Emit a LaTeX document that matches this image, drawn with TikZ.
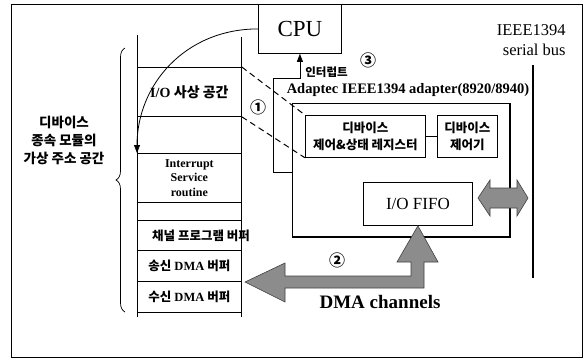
\documentclass[tikz,border=0pt]{standalone}
\usepackage{fontspec}
\setmainfont{Liberation Serif}
\newfontfamily\kr{Noto Sans CJK KR}
\usetikzlibrary{arrows.meta,decorations.pathreplacing,calc}
\begin{document}
\begin{tikzpicture}[x=1pt,y=-1pt,line width=0.8pt,
  cell/.style={draw,minimum width=104pt,inner sep=0pt,anchor=north west},
  boxx/.style={draw,inner sep=0pt,anchor=north west,align=center},
  lbl/.style={inner sep=0pt,align=center},
  circnum/.style={inner sep=0pt,font=\kr\bfseries\fontsize{16}{16}\selectfont},
  fatarrow/.style={fill=black!45,draw=black!75,line width=0.6pt,line join=miter},
  tip/.style={-{Triangle[width=6pt,length=8pt]}}]
\useasboundingbox (0,0) rectangle (588,360);
% frame
\draw (11,4) rectangle (582,357);
% CPU
\node[boxx,fill=white,minimum width=83pt,minimum height=49pt,font=\fontsize{23}{25}\selectfont] (cpu) at (258,4) {CPU};
% memory column
\draw (137,35) -- (137,317);
\draw (241,37) -- (241,317);
\node[cell,minimum height=49pt,font=\fontsize{14}{16}\selectfont] (c1) at (137,67) {\textbf{I/O} {\kr\bfseries 사상 공간}};
\node[cell,minimum height=37pt] (c2) at (137,116) {};
\node[cell,minimum height=49pt,align=center,font=\bfseries\fontsize{12}{14.5}\selectfont] (c3) at (137,153) {Interrupt\\Service\\routine};
\node[cell,minimum height=18pt] (c4) at (137,202) {};
\node[cell,minimum height=30pt] (c5) at (137,220) {};
\node[cell,minimum height=31pt,font=\fontsize{12.5}{14}\selectfont] (c6) at (137,250) {{\kr\bfseries 송신} \textbf{DMA} {\kr\bfseries 버퍼}};
\node[cell,minimum height=31pt,font=\fontsize{12.5}{14}\selectfont] (c7) at (137,281) {{\kr\bfseries 수신} \textbf{DMA} {\kr\bfseries 버퍼}};
\node[lbl,font=\kr\bfseries\fontsize{12.5}{14}\selectfont] (t5) at (201,236) {채널 프로그램 버퍼};
% brace and label
\draw[line width=0.7pt,decorate,decoration={brace,amplitude=9pt}] (125,312) -- (125,48);
\node[lbl,font=\kr\bfseries\fontsize{13.5}{18}\selectfont] (dlabel) at (64,140) {디바이스\\종속 모듈의\\가상 주소 공간};
% curved arrow CPU -> ISR
\draw[tip] (cpu.west) .. controls (185,29) and (137,85) .. (c3.north west);
% adapter
\node[boxx,minimum width=217pt,minimum height=133pt] (adp) at (292,103) {};
\draw[line width=1.8pt] (adp.north east) -- (adp.south east) -- (adp.south west);
\node[lbl,font=\bfseries\fontsize{14.5}{16}\selectfont] (adplbl) at (408,90) {Adaptec IEEE1394 adapter(8920/8940)};
\node[boxx,minimum width=120pt,minimum height=42pt,font=\kr\bfseries\fontsize{12.5}{17}\selectfont] (reg) at (305,115) {디바이스\\제어\&상태 레지스터};
\node[boxx,minimum width=60pt,minimum height=42pt,font=\kr\bfseries\fontsize{12.5}{17}\selectfont] (ctl) at (437,115) {디바이스\\제어기};
\draw[line width=1.6pt] (reg.east) -- (ctl.west);
\node[boxx,minimum width=109pt,minimum height=43pt,font=\fontsize{17}{19}\selectfont] (fifo) at (363,182) {I/O FIFO};
% interrupt line
\coordinate (ia) at (292,172);
\draw[tip] (ia) -- (273,172) -- (273,78) -- (cpu.south |- 0,78) -- (cpu.south);
\node[lbl,font=\kr\bfseries\fontsize{11.5}{13}\selectfont,anchor=west] (intr) at (305,72) {인터럽트};
\node[circnum] (n3) at (368,60) {③};
% dashed mapping
\draw[dashed,dash pattern=on 6pt off 4pt,line width=1pt] (c1.north east) -- (reg.north west);
\draw[dashed,dash pattern=on 6pt off 4pt,line width=1pt] (c1.south east) -- (reg.south west);
\node[circnum] (n1) at (258,107) {①};
% bus
\coordinate (bus1) at (533,65);
\coordinate (bus2) at (533,278);
\draw[line width=2.4pt] (bus1) -- (bus2);
\node[lbl,align=right,anchor=east,font=\fontsize{16.5}{20}\selectfont] (buslbl) at (566,40) {IEEE1394\\serial bus};
% double arrow
\draw[fatarrow] (478,198) -- (490,180) -- (490,188) -- (517,188) -- (517,180) -- (528,198) -- (517,216) -- (517,208) -- (490,208) -- (490,216) -- cycle;
% DMA arrow
\draw[fatarrow] (fifo.south) -- (438,262) -- (424,262) -- (424,288) -- (285,288) -- (285,302) -- (245,282) -- (285,263) -- (285,276) -- (411,276) -- (411,262) -- (397,262) -- cycle;
\node[circnum] (n2) at (337,260) {②};
\node[lbl,font=\bfseries\fontsize{19}{21}\selectfont] (dmalbl) at (380,302) {DMA channels};
\end{tikzpicture}
\end{document}
